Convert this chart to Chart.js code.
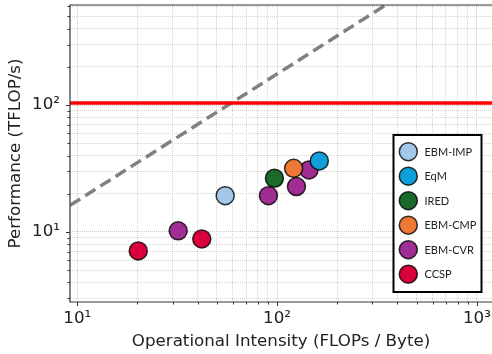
<!DOCTYPE html>
<html>
<head>
<meta charset="utf-8">
<script src="https://cdn.jsdelivr.net/npm/chart.js@4/dist/chart.umd.min.js"></script>
<style>
  html, body { margin: 0; padding: 0; background: #fff; }
</style>
</head>
<body>
<canvas id="roofline" width="492" height="354"></canvas>
<script>
// data
const methods = ['EBM-IMP', 'EqM', 'IRED', 'EBM-CMP', 'EBM-CVR', 'CCSP'];
const methodColors = ['#a3c8ea', '#109fd9', '#1a6a2c', '#ee7836', '#a02d93', '#d9003b'];
const intensity = [[55], [162.7], [97], [121], [32, 90.5, 125, 144.5], [20.2, 42]];
const perfTflops = [[19.3], [36.3], [26.5], [31.7], [10.2, 19.3, 22.8, 30.8], [7.08, 8.8]];
const peakTflops = 104;
const bandwidthTBs = 1.76;
const xRange = [9.2, 1190];
const yRange = [2.8, 616];
const xTicks = [10, 20, 30, 40, 50, 60, 70, 80, 90, 100, 200, 300, 400, 500, 600, 700, 800, 900, 1000];
const yTicks = [3, 4, 5, 6, 7, 8, 9, 10, 20, 30, 40, 50, 60, 70, 80, 90, 100, 200, 300, 400, 500, 600];
const decadeLabels = { 10: '10\u00b9', 100: '10\u00b2', 1000: '10\u00b3' };

const mplFont = "'DejaVu Sans', sans-serif";
const fontSize = 16.7;

function isDecade(v) {
  return Math.abs(Math.log10(v) - Math.round(Math.log10(v))) < 1e-9;
}

const datasets = methods.map(function (name, i) {
  return {
    label: name,
    data: intensity[i].map(function (x, j) { return { x: x, y: perfTflops[i][j] }; }),
    backgroundColor: methodColors[i],
    borderColor: 'rgba(0,0,0,0.8)',
    borderWidth: 1.5,
    pointRadius: 9,
    pointHoverRadius: 9,
    order: 1
  };
});

// memory roof (dashed) and compute roof (red)
datasets.push({
  type: 'line',
  label: 'bandwidth',
  data: xRange.map(function (x) { return { x: x, y: x * bandwidthTBs }; }),
  borderColor: '#808080',
  borderWidth: 3.5,
  borderDash: [12, 6],
  pointRadius: 0,
  showLine: true,
  order: 5
});
datasets.push({
  type: 'line',
  label: 'peak',
  data: xRange.map(function (x) { return { x: x, y: peakTflops }; }),
  borderColor: '#ff0000',
  borderWidth: 3.5,
  pointRadius: 0,
  showLine: true,
  order: 4
});

function gridColor(ctx) {
  return ctx.tick && ctx.tick.major ? '#cccccc' : '#d4d4d4';
}

function noPadding(scale) {
  scale.paddingTop = 0;
  scale.paddingBottom = 0;
  scale.paddingLeft = 0;
  scale.paddingRight = 0;
}

//spines, tick marks and legend
const frame = {
  id: 'frame',
  afterDraw(chart) {
    const c = chart.ctx;
    const a = chart.chartArea;
    c.save();
    c.strokeStyle = '#333';
    c.lineWidth = 1.2;
    c.beginPath();
    c.moveTo(a.right + 1, a.top);
    c.lineTo(a.left, a.top);
    c.lineTo(a.left, a.bottom);
    c.lineTo(a.right + 1, a.bottom);
    c.stroke();

    c.lineWidth = 1;
    c.beginPath();
    chart.scales.x.ticks.forEach(function (t) {
      const px = Math.round(chart.scales.x.getPixelForValue(t.value)) + 0.5;
      c.moveTo(px, a.bottom);
      c.lineTo(px, a.bottom + (t.major ? 4 : 2.5));
    });
    chart.scales.y.ticks.forEach(function (t) {
      const py = Math.round(chart.scales.y.getPixelForValue(t.value)) + 0.5;
      c.moveTo(a.left, py);
      c.lineTo(a.left - (t.major ? 4 : 2.5), py);
    });
    c.stroke();

    // legend
    c.fillStyle = '#fff';
    c.fillRect(393.5, 135, 88, 157);
    c.strokeStyle = '#000';
    c.lineWidth = 2;
    c.strokeRect(393.5, 135, 88, 157);
    c.font = '11px Lato';
    c.textBaseline = 'middle';
    methods.forEach(function (name, i) {
      const cy = 151.7 + i * 24.5;
      c.beginPath();
      c.arc(408.3, cy, 9, 0, Math.PI * 2);
      c.fillStyle = methodColors[i];
      c.fill();
      c.lineWidth = 1.5;
      c.strokeStyle = 'rgba(0,0,0,0.8)';
      c.stroke();
      c.fillStyle = '#222';
      c.fillText(name, 424.5, cy + 0.5);
    });
    c.restore();
  }
};

const ctx = document.getElementById('roofline').getContext('2d');

const chart = new Chart(ctx, {
  type: 'scatter',
  data: { datasets: datasets },
  options: {
    responsive: false,
    animation: false,
    devicePixelRatio: 1,
    layout: { autoPadding: false, padding: { top: 5, right: 0, left: 0, bottom: 0 } },
    plugins: {
      legend: { display: false },
      tooltip: { enabled: false }
    },
    scales: {
      x: {
        type: 'logarithmic',
        position: 'bottom',
        min: xRange[0],
        max: xRange[1],
        afterBuildTicks: function (scale) {
          scale.ticks = xTicks.map(function (v) { return { value: v, major: isDecade(v) }; });
        },
        afterFit: function (scale) { scale.height = 52; noPadding(scale); },
        grid: { color: gridColor, lineWidth: 1, drawTicks: false },
        border: { display: false, dash: [1, 1] },
        ticks: {
          autoSkip: false,
          maxRotation: 0,
          padding: 7,
          color: '#222',
          font: { family: mplFont, size: fontSize },
          callback: function (v) { return decadeLabels[v] || ''; }
        },
        title: {
          display: true,
          text: 'Operational Intensity (FLOPs / Byte)',
          color: '#222',
          font: { family: mplFont, size: fontSize },
          padding: { top: 2, bottom: 2 }
        }
      },
      y: {
        type: 'logarithmic',
        min: yRange[0],
        max: yRange[1],
        afterBuildTicks: function (scale) {
          scale.ticks = yTicks.map(function (v) { return { value: v, major: isDecade(v) }; });
        },
        afterFit: function (scale) { scale.width = 70; noPadding(scale); },
        grid: { color: gridColor, lineWidth: 1, drawTicks: false },
        border: { display: false, dash: [1, 1] },
        ticks: {
          autoSkip: false,
          padding: 10,
          color: '#222',
          font: { family: mplFont, size: fontSize },
          callback: function (v) { return decadeLabels[v] || ''; }
        },
        title: {
          display: true,
          text: 'Performance (TFLOP/s)',
          color: '#222',
          font: { family: mplFont, size: fontSize },
          padding: { top: 6, bottom: 0 }
        }
      }
    }
  },
  plugins: [frame]
});
</script>
</body>
</html>
